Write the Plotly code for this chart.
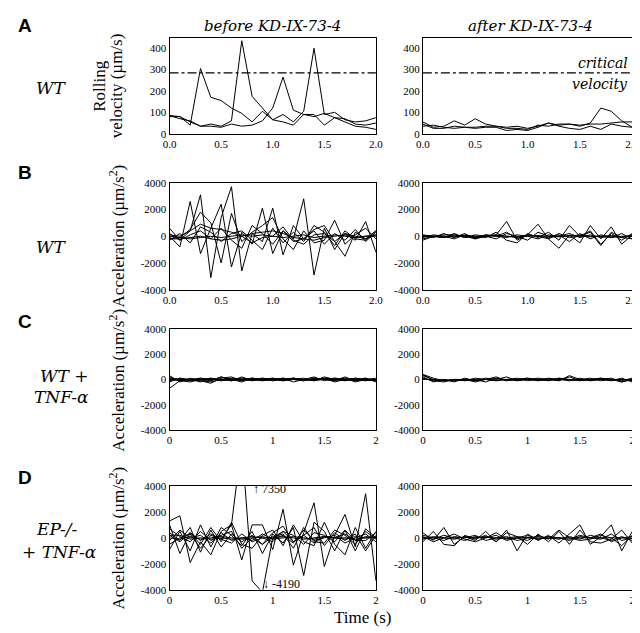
import plotly.graph_objects as go

W, H = 640, 633

# ---------------- data ----------------
t = [0.0, 0.1, 0.2, 0.3, 0.4, 0.5, 0.6, 0.7, 0.8, 0.9, 1.0,
     1.1, 1.2, 1.3, 1.4, 1.5, 1.6, 1.7, 1.8, 1.9, 2.0]

critical_velocity = 285

# Panel A: rolling velocity (um/s)
vel_before = [
    [85, 80, 40, 305, 170, 155, 120, 95, 55, 105, 65, 90, 55, 105, 400, 90, 100, 65, 55, 60, 75],
    [80, 80, 55, 35, 45, 35, 60, 435, 175, 120, 65, 55, 40, 90, 90, 40, 75, 70, 45, 40, 50],
    [85, 70, 60, 35, 35, 30, 45, 35, 40, 60, 120, 265, 110, 90, 80, 95, 75, 55, 35, 30, 20],
]
vel_after = [
    [55, 30, 35, 60, 40, 70, 45, 35, 25, 25, 20, 40, 35, 45, 45, 35, 50, 120, 105, 60, 30],
    [45, 25, 25, 35, 30, 30, 35, 35, 30, 35, 25, 35, 50, 40, 45, 40, 45, 45, 50, 55, 55],
    [35, 40, 30, 25, 30, 25, 30, 30, 15, 20, 15, 30, 50, 35, 25, 20, 35, 20, 45, 35, 30],
]

# Panel B: WT acceleration (um/s^2)
accB_before = [
    [0, -800, 2600, -1300, 600, 2400, -2300, 300, -600, 2100, -1300, 400, -200, 2800, -2900, 600, -1000, 200, -300, 1100, -1200],
    [200, -300, 400, 3100, -3100, 1400, 3700, -2600, 200, -400, 2100, -1400, 800, -200, 500, 800, -400, -1500, 300, -200, 400],
    [-200, -100, 500, 1800, 1000, -2000, 1700, -400, 300, 800, 1400, -200, -1000, 400, -500, -300, 1200, -600, 100, 600, -200],
    [600, -300, 100, 400, -200, 600, -300, -900, 800, 200, -600, 400, -400, -200, 400, -600, 200, -300, 500, -400, 300],
    [-300, 200, -500, 700, 300, -400, 200, 400, -300, -1000, 600, -500, 300, -400, 800, 300, -700, 400, -200, -300, 400],
    [0, -100, -200, -100, 0, -100, 0, 100, 0, 100, 0, -100, 0, 100, -100, 0, 100, 0, -100, 0, 0],
    [-200, -200, -100, 0, -200, -300, -200, 0, 200, 300, 400, 200, -100, -200, -300, -100, 0, 100, -100, 0, 100],
    [100, 0, 400, 900, 600, 500, 300, 0, -500, -100, 0, 700, -300, -600, 100, 200, -400, 200, 0, -200, 100],
]
accB_after = [
    [0, -100, 200, -100, 200, -200, 0, 100, 1100, -300, 100, 900, -200, -900, 100, -500, 800, -200, 700, -600, 100],
    [-200, 0, 100, 100, -100, 0, -100, 300, -300, -500, 200, -100, 300, -300, 800, 0, 400, -600, 200, -300, 200],
    [100, 0, -100, 200, -100, 100, 0, -200, 200, 0, -300, 300, 0, 100, -400, 200, -200, 100, -100, 200, -200],
    [-100, 100, 0, -200, 100, -100, 100, 0, -100, 100, 0, -200, 100, 0, 200, -100, 100, -100, 0, -100, 100],
    [0, 0, -100, 0, 0, -100, 0, 100, 0, -100, 100, 0, -100, 0, 0, 100, 0, 0, -100, 0, 0],
    [-300, 0, -100, 100, 0, -200, 100, 0, 300, -200, 100, 0, -200, 200, -100, 0, 300, -700, 300, -100, -200],
    [50, -50, 0, -50, 50, 0, -50, 50, 0, -50, 0, 50, 0, -50, 50, 0, -50, 0, 50, -50, 0],
]

# Panel C: WT + TNF-alpha
accC_before = [
    [-700, -100, -200, 0, -100, 200, -100, 0, 100, -100, 0, 100, -200, 0, 200, -100, 100, 0, -100, 0, -100],
    [300, -200, 100, -100, -300, 100, 200, -100, 0, 100, -100, 0, 100, -100, 100, 0, -100, 200, -100, 100, -200],
    [-200, 100, -100, 100, 0, -100, 100, 0, -100, 0, 100, -100, 0, 100, -100, 200, 0, -100, 100, -100, 0],
    [0, -100, 0, -100, -200, 0, -100, 100, 0, -100, 0, 100, 0, -100, 0, 100, 0, -100, 0, 100, -100],
    [100, 0, -100, 0, 100, -100, 0, -100, 100, 0, -100, 0, 100, 0, -100, 0, 100, 0, 0, -100, 0],
    [-100, 100, 0, 100, -100, 200, 0, -200, 100, 0, 100, -100, 0, -100, 100, 0, -100, 100, -200, 0, 100],
    [0, 0, -50, 0, -50, 0, 50, 0, -50, 0, 50, 0, 0, 50, 0, 0, 50, 0, 0, -50, 0],
    [200, -100, 0, -200, 100, 0, -100, 200, -100, 100, 0, -100, 100, 0, -100, 100, -200, 0, 100, 0, -100],
]
accC_after = [
    [400, -100, -200, 0, -100, 0, -200, 100, -100, 0, 100, 0, -100, 100, -100, 0, 100, -100, 0, -200, 0],
    [300, 0, -100, -100, 0, -100, 0, -100, 0, -100, 0, 100, 0, -100, 200, -100, 0, 100, -100, 0, -100],
    [200, -200, 0, -200, 100, -100, 100, 0, 200, -100, 0, -100, 100, 0, -100, 100, -100, 0, -100, 100, -200],
    [400, 100, -100, 0, -100, 100, 0, -100, 0, 100, -100, 0, -100, 100, 0, -100, 0, 100, 0, -100, 100],
    [100, -100, 0, -100, 0, -200, 0, 200, -100, 0, 100, -100, 0, -100, 300, 0, -100, 0, 100, -200, 0],
    [0, 0, -100, 0, 0, -50, 0, 50, 0, 0, -50, 0, 50, 0, 0, -50, 0, 0, 50, 0, -50],
]

# Panel D: EP-/- + TNF-alpha
accD_before = [
    [200, -300, 400, -200, 300, -100, 1000, 7350, -3300, -4190, 0, 500, -300, 200, -400, 100, 0, 300, -200, 100, 0],
    [1300, 1700, -1900, -300, -1300, 500, 1000, -1700, 1000, 1000, -900, 2200, -2100, 400, 2700, -2200, 200, 1800, -700, 3400, -3300],
    [-900, 500, -1000, 1000, -700, 800, 200, -600, 500, -1200, 300, -400, 800, -2900, 1200, 500, -1000, 600, -1000, 700, 0],
    [1000, -1200, 400, -500, 800, -300, 1200, -500, -800, 200, 600, -600, 1000, -300, -600, 1200, -500, -1300, 800, -800, 500],
    [400, -200, 800, -1100, 600, -700, 300, -300, 200, -500, 400, 900, -300, 200, 800, -600, 400, -200, 300, -1000, 200],
    [-200, 600, 0, 200, -400, 400, -200, 0, -200, 300, -100, 200, -400, 600, -200, 0, 200, -400, 0, 300, -300],
    [0, -100, 100, -100, 0, 100, 0, -100, 0, 100, -100, 0, 100, 0, -100, 100, 0, -100, 100, 0, 100],
    [700, 100, -300, 500, -200, 200, 500, -800, 0, -500, 100, 300, -800, 800, -300, -400, 600, 200, -500, 500, -100],
    [-500, 0, 300, -800, 200, -100, -400, 300, -300, 0, -300, 500, 200, -500, 400, 200, -300, 600, -200, -200, 400],
    [200, 200, -100, 0, -100, 0, -100, 0, 100, 0, 0, 100, 0, -100, 0, 100, 0, 0, -100, 0, 0],
]
accD_after = [
    [400, -200, 800, -500, 100, -200, 500, -300, 600, -1000, 300, -200, 200, -400, 300, 1000, -500, 100, 1000, -1000, 500],
    [-300, 500, -500, -600, 200, -100, 200, -300, 400, 100, -500, 300, -300, 500, -500, 600, -300, -400, -100, 600, -400],
    [0, -100, 200, 0, -200, 100, 0, 200, -200, 0, 200, -100, 100, 0, -200, 100, 0, 300, -300, 0, 100],
    [200, 0, -200, 100, 0, 200, -200, 0, 100, -200, 0, 100, 0, -100, 100, -100, 200, 0, -200, 100, -200],
    [-100, 100, 0, -100, 100, 0, 100, -100, 0, 100, 0, -100, 100, 0, -100, 200, 0, -100, 300, -200, 0],
    [0, 0, -50, 0, 50, 0, 50, 0, -50, 0, 50, 0, -50, 0, 0, 50, 0, 0, 50, 0, -50],
    [100, -300, 0, 300, -100, -300, 0, 400, -100, 0, -200, 200, -100, 600, 0, -200, -100, 200, 0, -600, 200],
]

vel_ticks = [0, 100, 200, 300, 400]
acc_ticks = [-4000, -2000, 0, 2000, 4000]
acc_ticktext = ["-4000", "-2000", "0", "2000", "4000"]
x_ticks = [0, 0.5, 1.0, 1.5, 2.0]
x_ticktext_ab = ["0.0", "0.5", "1.0", "1.5", "2.0"]
x_ticktext_cd = ["0", "0.5", "1", "1.5", "2"]

# ---------------- layout helpers ----------------
def px(x):
    return x / W

def py(y):
    return 1 - y / H

SERIF = "Liberation Serif"
ITAL = "DejaVu Serif"
SANS = "Liberation Sans"

col_x = [(158, 369), (417, 631)]
row_y = [(24, 122), (172, 281), (321, 424), (481, 587)]

fig = go.Figure()

panels = [
    (vel_before, vel_after, [0, 450], vel_ticks, [str(v) for v in vel_ticks], x_ticktext_ab),
    (accB_before, accB_after, [-4000, 4000], acc_ticks, acc_ticktext, x_ticktext_ab),
    (accC_before, accC_after, [-4000, 4000], acc_ticks, acc_ticktext, x_ticktext_cd),
    (accD_before, accD_after, [-4000, 4000], acc_ticks, acc_ticktext, x_ticktext_cd),
]

layout = {}
idx = 0
for r, (before, after, yr, yt, ytt, xtt) in enumerate(panels):
    for c, series in enumerate([before, after]):
        idx += 1
        xa = "x" if idx == 1 else f"x{idx}"
        ya = "y" if idx == 1 else f"y{idx}"
        for s in series:
            fig.add_trace(go.Scatter(x=t, y=s, mode="lines", xaxis=xa, yaxis=ya,
                                     line=dict(color="black", width=1), showlegend=False,
                                     hoverinfo="skip"))
        if r == 0:
            fig.add_trace(go.Scatter(x=[t[0], t[-1]], y=[critical_velocity, critical_velocity],
                                     mode="lines", xaxis=xa, yaxis=ya,
                                     line=dict(color="black", width=1.3, dash="dashdot"),
                                     showlegend=False, hoverinfo="skip"))
        x0, x1 = col_x[c]
        y0, y1 = row_y[r]
        common = dict(showline=True, linecolor="black", linewidth=1, mirror=True,
                      showgrid=False, zeroline=False, ticks="",
                      tickfont=dict(family=SERIF, size=11, color="black"))
        layout["xaxis" if idx == 1 else f"xaxis{idx}"] = dict(
            domain=[px(x0), px(x1)], anchor=ya, range=[0, 2],
            tickmode="array", tickvals=x_ticks, ticktext=xtt, **common)
        layout["yaxis" if idx == 1 else f"yaxis{idx}"] = dict(
            domain=[py(y1), py(y0)], anchor=xa, range=yr,
            tickmode="array", tickvals=yt, ticktext=ytt, **common)

ann = []

def add_text(x, y, text, size, family=SERIF, xanchor="center", angle=0, yanchor="middle"):
    ann.append(dict(x=px(x), y=py(y), xref="paper", yref="paper", text=text,
                    showarrow=False, xanchor=xanchor, yanchor=yanchor, textangle=angle,
                    font=dict(family=family, size=size, color="black")))

def add_ital(x, y, text, size, xanchor="center"):
    add_text(x, y, f"<i>{text}</i>", size, family=ITAL, xanchor=xanchor)

# panel letters
for letter, y in [("A", 12), ("B", 162), ("C", 313), ("D", 472)]:
    add_text(1, y, f"<b>{letter}</b>", 19, family=SANS, xanchor="left")

# column titles
add_ital(263, 12, "before KD-IX-73-4", 15)
add_ital(527, 12, "after KD-IX-73-4", 15)

# row labels
add_ital(19, 75, "WT", 17, xanchor="left")
add_ital(19, 238, "WT", 17, xanchor="left")
add_ital(50, 369, "WT +", 17)
add_ital(48, 390, "TNF-α", 17)
add_ital(42, 525, "EP-/-", 17)
add_ital(45, 548, "+ TNF-α", 17)

# y-axis titles
add_text(86, 73, "Rolling", 17, angle=-90)
add_text(104, 73, "velocity (µm/s)", 17, angle=-90)
add_text(104, 226, "Acceleration (µm/s<sup>2</sup>)", 17, angle=-90)
add_text(104, 373, "Acceleration (µm/s<sup>2</sup>)", 17, angle=-90)
add_text(104, 534, "Acceleration (µm/s<sup>2</sup>)", 17, angle=-90)

# critical velocity label
add_ital(629, 50, "critical", 14, xanchor="right")
add_ital(629, 71, "velocity", 14, xanchor="right")

# off-scale values
add_text(241, 484, "↑ 7350", 12, xanchor="left")
add_text(252, 581, "↓ -4190", 12, xanchor="left")

# x-axis title
add_text(355, 615, "Time (s)", 17)

fig.update_layout(width=W, height=H, margin=dict(l=0, r=0, t=0, b=0),
                  paper_bgcolor="white", plot_bgcolor="white",
                  font=dict(family=SERIF, color="black"),
                  annotations=ann, **layout)

fig.write_html("out.html")
